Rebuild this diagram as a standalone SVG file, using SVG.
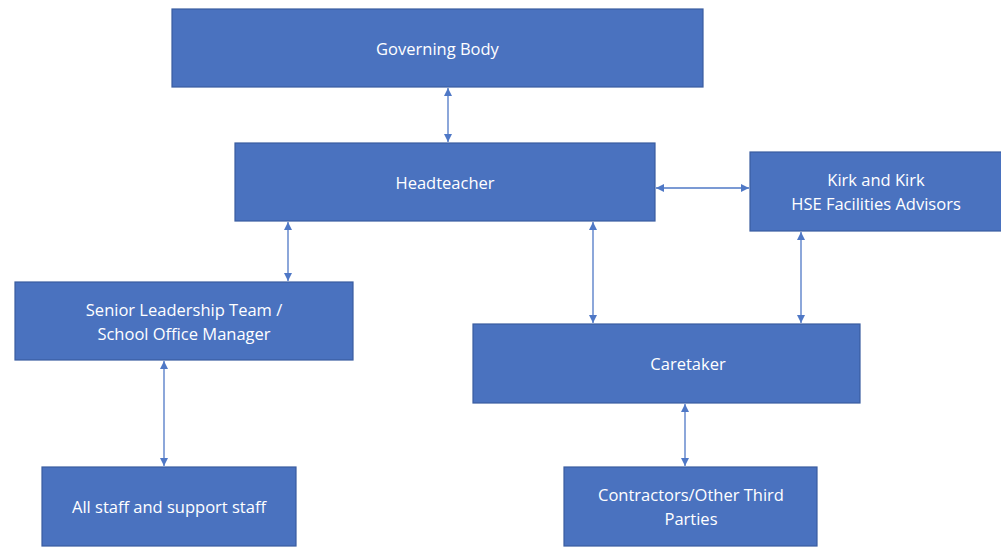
<svg xmlns="http://www.w3.org/2000/svg" width="1001" height="548" viewBox="0 0 1001 548">
<style>
.box{fill:#4a72bf;stroke:#3a5da0;stroke-width:1.2}
.t{fill:#ffffff;font-family:"Open Sans","Liberation Sans",sans-serif;font-size:16.5px;text-anchor:middle}
.c{stroke:#4f78c6;stroke-width:1.3;fill:none;marker-start:url(#ah);marker-end:url(#ah)}
</style>
<defs>
<marker id="ah" viewBox="0 0 10 10" refX="10" refY="5" markerWidth="8" markerHeight="8" markerUnits="userSpaceOnUse" orient="auto-start-reverse">
<path d="M0,0 L10,5 L0,10 z" fill="#4f78c6"/>
</marker>
</defs>
<rect width="1001" height="548" fill="#ffffff"/>
<g id="connectors">
<line class="c" x1="448" y1="88" x2="448" y2="142"/>
<line class="c" x1="288" y1="222" x2="288" y2="281"/>
<line class="c" x1="593" y1="222" x2="593" y2="323"/>
<line class="c" x1="656" y1="188" x2="749" y2="188"/>
<line class="c" x1="801" y1="232" x2="801" y2="323"/>
<line class="c" x1="164" y1="361" x2="164" y2="466"/>
<line class="c" x1="685" y1="404" x2="685" y2="466"/>
</g>
<g id="governing-body">
<rect class="box" x="172" y="9" width="531" height="78"/>
<text class="t" x="437.5" y="55">Governing Body</text>
</g>
<g id="headteacher">
<rect class="box" x="235" y="143" width="420" height="78"/>
<text class="t" x="445" y="189">Headteacher</text>
</g>
<g id="kirk">
<rect class="box" x="750" y="152" width="254" height="79"/>
<text class="t" x="876" y="186">Kirk and Kirk</text>
<text class="t" x="876" y="210">HSE Facilities Advisors</text>
</g>
<g id="slt">
<rect class="box" x="15" y="282" width="338" height="78"/>
<text class="t" x="184" y="316">Senior Leadership Team /</text>
<text class="t" x="184" y="340">School Office Manager</text>
</g>
<g id="caretaker">
<rect class="box" x="473" y="324" width="387" height="79"/>
<text class="t" x="688" y="370">Caretaker</text>
</g>
<g id="all-staff">
<rect class="box" x="42" y="467" width="254" height="79"/>
<text class="t" x="169" y="513">All staff and support staff</text>
</g>
<g id="contractors">
<rect class="box" x="564" y="467" width="253" height="79"/>
<text class="t" x="691" y="501">Contractors/Other Third</text>
<text class="t" x="691" y="525">Parties</text>
</g>
</svg>
